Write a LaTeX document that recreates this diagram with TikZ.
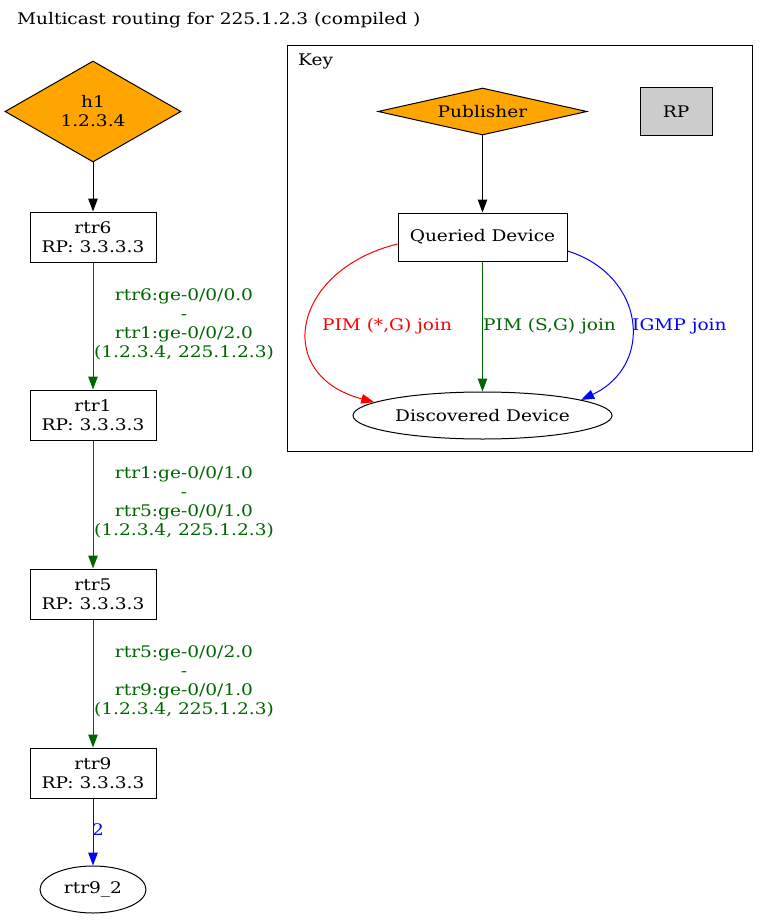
\documentclass[tikz,border=0pt]{standalone}
\usepackage{fontspec}
\setmainfont{DejaVu Serif}[FakeStretch=1.16]
\usetikzlibrary{shapes.geometric,arrows.meta}
\definecolor{gvgreen}{HTML}{006400}
\definecolor{gvorange}{HTML}{FFA500}
\definecolor{gvgray}{HTML}{CCCCCC}
\tikzset{
  every node/.style={font=\fontsize{16}{19}\selectfont, inner sep=0pt},
  rtrbox/.style={draw, line width=1pt, rectangle, minimum width=126, minimum height=50, align=center},
  pubdiamond/.style={draw, line width=1pt, diamond, fill=gvorange, align=center},
  discell/.style={draw, line width=1pt, ellipse, align=center},
  gvarrow/.style={line width=1pt, -{Triangle[length=13pt,width=9.5pt]}},
  elabel/.style={align=center, text=gvgreen},
}
\begin{document}
\begin{tikzpicture}[x=1pt,y=-1pt]
\useasboundingbox (0,0) rectangle (769,920);
\node[anchor=west] (title) at (17,20.5) {Multicast routing for 225.1.2.3 (compiled )};
% main chain
\node[pubdiamond, minimum width=176, minimum height=101] (h1) at (93,111.5) {h1\\1.2.3.4};
\node[rtrbox] (rtr6) at (93,237) {rtr6\\RP: 3.3.3.3};
\node[rtrbox] (rtr1) at (93,415) {rtr1\\RP: 3.3.3.3};
\node[rtrbox] (rtr5) at (93,594) {rtr5\\RP: 3.3.3.3};
\node[rtrbox] (rtr9) at (93,773) {rtr9\\RP: 3.3.3.3};
\node[discell, minimum width=106, minimum height=47] (r92) at (93,889.5) {rtr9\_2};
\draw[gvarrow] (h1.south) -- (rtr6.north);
\draw[gvarrow, gvgreen] (rtr6.south) -- (rtr1.north);
\draw[gvarrow, gvgreen] (rtr1.south) -- (rtr5.north);
\draw[gvarrow, gvgreen] (rtr5.south) -- (rtr9.north);
\draw[gvarrow, blue] (rtr9.south) -- (r92.north);
\node[elabel] (lab1) at (184,324.5) {rtr6:ge-0/0/0.0\\-\\rtr1:ge-0/0/2.0\\(1.2.3.4, 225.1.2.3)};
\node[elabel] (lab2) at (184,502.5) {rtr1:ge-0/0/1.0\\-\\rtr5:ge-0/0/1.0\\(1.2.3.4, 225.1.2.3)};
\node[elabel] (lab3) at (184,681.5) {rtr5:ge-0/0/2.0\\-\\rtr9:ge-0/0/1.0\\(1.2.3.4, 225.1.2.3)};
\node[text=blue] (lab4) at (98,830) {2};
% key
\node[draw, line width=1pt, minimum width=465, minimum height=405] (key) at (519.5,248.5) {};
\node[anchor=west] (keytitle) at (298,61) {Key};
\node[pubdiamond, minimum width=209, minimum height=47, aspect=4] (pub) at (482.5,111.5) {Publisher};
\node[rtrbox, fill=gvgray, minimum width=72, minimum height=48] (rp) at (676,112) {RP};
\node[rtrbox, minimum width=169, minimum height=48] (qd) at (482.5,237) {Queried Device};
\node[discell, minimum width=259, minimum height=47] (dd) at (482.5,415.5) {Discovered Device};
\draw[gvarrow] (pub.south) -- (qd.north);
\draw[gvarrow, gvgreen] (qd.south) -- (dd.north);
\draw[gvarrow, red] ([yshift=-7pt]qd.west) .. controls (292,270) and (272,375) .. (dd.173);
\draw[gvarrow, blue] ([yshift=-14pt]qd.east) .. controls (645,275) and (655,365) .. (dd.9);
\node[text=red] (lred) at (387,326) {PIM (*,G) join};
\node[text=gvgreen, anchor=west] (lgreen) at (483,326) {PIM (S,G) join};
\node[text=blue, anchor=west] (lblue) at (632,326) {IGMP join};
\end{tikzpicture}
\end{document}
